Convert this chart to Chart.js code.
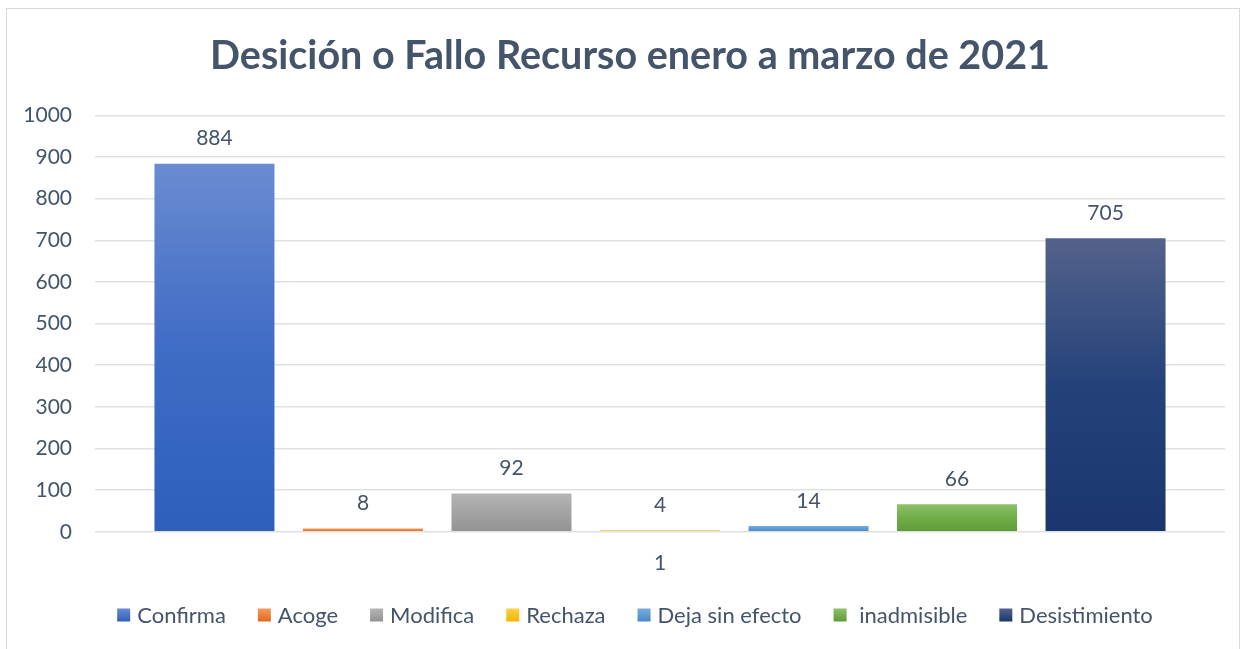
<!DOCTYPE html>
<html>
<head>
<meta charset="utf-8">
<script src="https://cdn.jsdelivr.net/npm/chart.js@4"></script>
<style>
  html, body { margin: 0; padding: 0; background: #fff; }
  #wrap { position: relative; width: 1252px; height: 649px; }
  #marco { position: absolute; left: 6px; top: 8px; width: 1234px; height: 660px; border: 1.5px solid #D9D9D9; box-sizing: border-box; }
  canvas { position: absolute; left: 0; top: 0; }
</style>
</head>
<body>
<div id="wrap">
  <div id="marco"></div>
  <canvas id="grafico" width="1252" height="649"></canvas>
</div>
<script>
// Datos del grafico
const categorias = ["1"];
const series = ["Confirma", "Acoge", "Modifica", "Rechaza", "Deja sin efecto", " inadmisible", "Desistimiento"];
const valores = [884, 8, 92, 4, 14, 66, 705];
const ticksY = [0, 100, 200, 300, 400, 500, 600, 700, 800, 900, 1000];

// Colores: claro arriba, medio, oscuro abajo
const colores = [
  ["#6A8BD1", "#3F6CC5", "#2E5FBB"],
  ["#F59A5E", "#EE7E32", "#E06A1C"],
  ["#B4B4B4", "#A3A3A3", "#939393"],
  ["#FFD04A", "#FFC000", "#F2B500"],
  ["#78ACDE", "#5B9BD5", "#4887C9"],
  ["#8DC06A", "#70AD47", "#5E9B37"],
  ["#53628B", "#24427A", "#1B366F"]
];

const texto = "#44546A";
const fuente = "Lato";

function degradado(i) {
  return (ctx) => {
    const chart = ctx.chart;
    if (!chart.chartArea || ctx.type !== "data") return colores[i][1];
    const y = chart.scales.y;
    const arriba = y.getPixelForValue(ctx.raw);
    const base = y.getPixelForValue(0);
    if (!isFinite(arriba) || Math.abs(base - arriba) < 1) return colores[i][1];
    const g = chart.ctx.createLinearGradient(0, arriba, 0, base);
    g.addColorStop(0, colores[i][0]);
    g.addColorStop(0.5, colores[i][1]);
    g.addColorStop(1, colores[i][2]);
    return g;
  };
}

// Etiquetas de valor encima de cada barra
const etiquetas = {
  id: "etiquetas",
  afterDatasetsDraw(chart) {
    const c = chart.ctx;
    c.save();
    c.font = "21px " + fuente;
    c.fillStyle = texto;
    c.textAlign = "center";
    c.textBaseline = "middle";
    chart.data.datasets.forEach((ds, i) => {
      chart.getDatasetMeta(i).data.forEach((bar, j) => {
        c.fillText(String(ds.data[j]), bar.x, bar.y - 25);
      });
    });
    c.restore();
  }
};

// Leyenda propia abajo (separacion horizontal distinta de la vertical)
const leyenda = {
  id: "leyenda",
  afterDraw(chart) {
    const c = chart.ctx;
    c.save();
    c.font = "22px " + fuente;
    c.textBaseline = "middle";
    const caja = 13, hueco = 7, sep = 32;
    const anchos = series.map(s => caja + hueco + c.measureText(s).width);
    const total = anchos.reduce((a, b) => a + b, 0) + sep * (series.length - 1);
    let x = 635 - total / 2;
    const y = 615;
    series.forEach((s, i) => {
      const g = c.createLinearGradient(0, y - caja / 2, 0, y + caja / 2);
      g.addColorStop(0, colores[i][0]);
      g.addColorStop(1, colores[i][2]);
      c.fillStyle = g;
      c.fillRect(x, y - caja / 2, caja, caja);
      c.fillStyle = texto;
      c.fillText(s, x + caja + hueco, y + 1);
      x += anchos[i] + sep;
    });
    c.restore();
  }
};

const ctx = document.getElementById("grafico").getContext("2d");
new Chart(ctx, {
  type: "bar",
  data: {
    labels: categorias,
    datasets: series.map((s, i) => ({
      label: s,
      data: [valores[i]],
      backgroundColor: degradado(i),
      categoryPercentage: 0.92,
      barPercentage: 0.808
    }))
  },
  options: {
    responsive: false,
    animation: false,
    layout: { padding: { left: 8, right: 0, top: 0, bottom: 62 } },
    plugins: {
      title: {
        display: true,
        text: "Desición o Fallo Recurso enero a marzo de 2021",
        color: texto,
        font: { family: fuente, size: 39.5, weight: "bold" },
        padding: { top: 33, bottom: 35 }
      },
      legend: { display: false },
      tooltip: { enabled: false }
    },
    scales: {
      x: {
        grid: { display: false },
        border: { display: false },
        ticks: { color: texto, font: { family: fuente, size: 21 }, padding: 11 }
      },
      y: {
        min: 0,
        max: 1000,
        afterBuildTicks(axis) { axis.ticks = ticksY.map(v => ({ value: v })); },
        afterFit(axis) { axis.width = 87; },
        grid: { color: "#DDE1E6", lineWidth: 1.5, drawTicks: false },
        border: { display: false },
        ticks: { color: texto, font: { family: fuente, size: 21 }, padding: 23, callback: v => String(v) }
      },
      derecha: {
        position: "right",
        min: 0,
        max: 1000,
        afterFit(axis) { axis.width = 27; },
        grid: { display: false },
        border: { display: false },
        ticks: { display: false }
      }
    }
  },
  plugins: [etiquetas, leyenda]
});
</script>
</body>
</html>
